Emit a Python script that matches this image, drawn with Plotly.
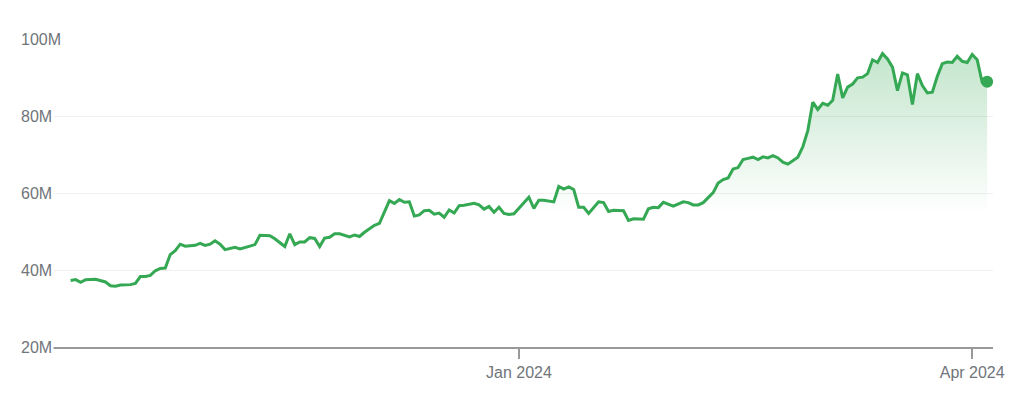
import pandas as pd
import plotly.graph_objects as go

# days counted from 1 Jan 2024
day_offset = [
    -90, -89, -88, -87, -85, -84, -83, -82, -81, -80, -78, -77, -76, -75, -74, -73,
    -72, -71, -70, -69, -68, -67, -65, -64, -63, -62, -61, -60, -59, -57, -56, -54,
    -53, -52, -50, -49, -47, -46, -45, -44, -43, -42, -41, -40, -39, -38, -37, -36,
    -34, -33, -32, -31, -29, -28, -26, -25, -24, -23, -22, -21, -20, -19, -18, -17,
    -16, -15, -14, -13, -12, -11, -9, -8, -7, -6, -5, -4, -3, -2, -1, 1,
    2, 3, 4, 5, 7, 8, 9, 10, 11, 12, 13, 14, 16, 17, 18, 19,
    21, 22, 23, 25, 26, 27, 28, 29, 30, 31, 33, 34, 35, 36, 37, 39,
    40, 41, 42, 43, 44, 45, 46, 47, 48, 49, 50, 51, 52, 53, 54, 55,
    56, 57, 58, 59, 60, 61, 62, 63, 64, 65, 66, 67, 68, 69, 70, 71,
    72, 73, 74, 75, 76, 77, 78, 79, 80, 81, 82, 83, 84, 85, 86, 87,
    88, 89, 90, 91, 92, 93, 94,
]
value_m = [
    37.3, 37.5, 36.8, 37.5, 37.6, 37.3, 36.9, 35.9, 35.8, 36.1, 36.2, 36.5, 38.3, 38.3, 38.6, 39.8,
    40.4, 40.5, 44.0, 45.0, 46.7, 46.2, 46.4, 46.9, 46.4, 46.7, 47.6, 46.7, 45.3, 45.9, 45.5, 46.2,
    46.6, 49.0, 48.9, 48.1, 46.1, 49.4, 46.6, 47.3, 47.3, 48.4, 48.2, 46.1, 48.3, 48.5, 49.4, 49.4,
    48.6, 49.1, 48.7, 49.8, 51.6, 52.1, 58.0, 57.3, 58.3, 57.6, 57.7, 54.0, 54.3, 55.4, 55.5, 54.5,
    54.8, 53.7, 55.6, 54.8, 56.7, 56.8, 57.3, 56.9, 55.8, 56.5, 55.0, 56.3, 54.7, 54.4, 54.6, 57.5,
    58.9, 56.0, 58.1, 58.1, 57.7, 61.7, 61.0, 61.6, 60.9, 56.3, 56.3, 54.7, 57.7, 57.5, 55.2, 55.5,
    55.4, 52.9, 53.3, 53.2, 55.9, 56.3, 56.2, 57.6, 57.0, 56.6, 57.7, 57.5, 56.9, 56.9, 57.5, 60.1,
    62.6, 63.5, 63.9, 66.2, 66.6, 68.7, 69.0, 69.3, 68.7, 69.4, 69.1, 69.7, 69.1, 68.0, 67.5, 68.4,
    69.3, 72.0, 76.2, 83.6, 81.7, 83.3, 82.8, 84.1, 90.9, 84.7, 87.5, 88.3, 89.9, 90.1, 91.0, 94.6,
    93.9, 96.2, 94.8, 92.7, 86.6, 91.2, 90.7, 83.0, 91.0, 87.9, 86.0, 86.2, 90.3, 93.6, 94.0, 93.9,
    95.5, 94.2, 93.9, 96.0, 94.6, 88.8, 88.9,
]
y_tick_m = [20, 40, 60, 80, 100]
y_tick_labels = ["20M", "40M", "60M", "80M", "100M"]
x_tick_dates = ["2024-01-01", "2024-04-01"]
x_tick_labels = ["Jan 2024", "Apr 2024"]

base = pd.Timestamp("2024-01-01")
dates = [base + pd.Timedelta(days=d) for d in day_offset]
values = [v * 1e6 for v in value_m]

GREEN = "#34A853"
GRAY_TEXT = "#70757a"
FONT = "Liberation Sans, Arial, sans-serif"

fig = go.Figure()
fig.add_trace(go.Scatter(
    x=dates, y=values, mode="lines",
    line=dict(color=GREEN, width=3),
    fill="tozeroy",
    fillgradient=dict(
        type="vertical",
        colorscale=[[0, "rgba(52,168,83,0)"], [1, "rgba(52,168,83,0.30)"]],
        start=55e6, stop=97e6,
    ),
    hoverinfo="skip",
))
fig.add_trace(go.Scatter(
    x=[dates[-1]], y=[values[-1]], mode="markers",
    marker=dict(color=GREEN, size=12),
    cliponaxis=False, hoverinfo="skip",
))

for v, lab in zip(y_tick_m, y_tick_labels):
    fig.add_annotation(
        xref="paper", x=0, xanchor="left", yref="y", y=v * 1e6, yanchor="middle",
        text=lab, showarrow=False, bgcolor="white", xshift=-4,
        font=dict(family=FONT, size=16, color=GRAY_TEXT),
    )

fig.update_layout(
    width=1017, height=393,
    margin=dict(l=23, r=14, t=39, b=43),
    paper_bgcolor="white", plot_bgcolor="white",
    showlegend=False,
    xaxis=dict(
        type="date",
        range=["2023-09-23 10:30", "2024-04-05 04:20"],
        tickvals=x_tick_dates, ticktext=x_tick_labels,
        ticks="outside", ticklen=10, tickcolor="#999999", tickwidth=1.5,
        showline=True, linecolor="#999999", linewidth=2,
        showgrid=False, zeroline=False,
        tickfont=dict(family=FONT, size=16, color=GRAY_TEXT),
    ),
    yaxis=dict(
        range=[20e6, 100e6],
        tickvals=[v * 1e6 for v in y_tick_m],
        showticklabels=False, ticks="",
        showgrid=True, gridcolor="#f0f0f0", gridwidth=1,
        zeroline=False,
    ),
)

fig.write_html("out.html")
